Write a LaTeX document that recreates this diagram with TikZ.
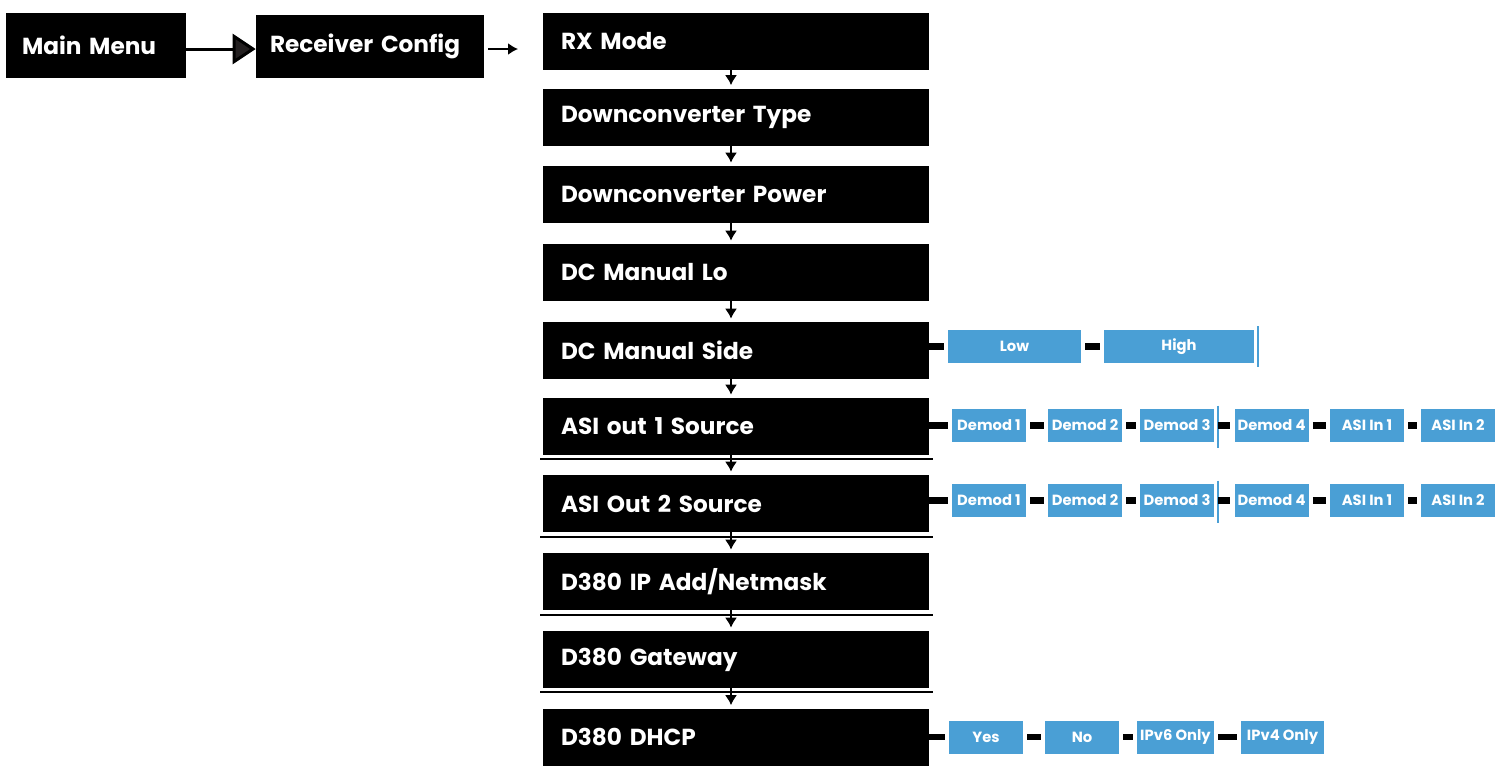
\documentclass[tikz,border=0pt]{standalone}
\usepackage{fontspec}
\setmainfont{Poppins}
\usetikzlibrary{arrows.meta,positioning}
\tikzset{>={Latex[length=2mm,width=2.4mm]}}
\definecolor{optblue}{RGB}{74,159,213}
\definecolor{headgray}{RGB}{35,31,32}

\tikzset{
  menubox/.style={fill=black, text=white, font=\bfseries\fontsize{13.2}{15}\selectfont,
    text width=7.0cm, align=left, inner xsep=0.36cm, inner ysep=0pt, minimum height=1.14cm},
  optbox/.style={fill=optblue, text=white, font=\bfseries\fontsize{8.4}{10}\selectfont,
    inner sep=0pt, minimum width=1.48cm, minimum height=0.66cm},
  stub/.style={line width=0.13cm, shorten >=0.08cm},
  sepline/.style={line width=0.6pt},
  blueline/.style={optblue, line width=0.8pt}
}

\begin{document}
\begin{tikzpicture}[x=0.02cm, y=-0.02cm]
      \useasboundingbox (0,0) rectangle (1496,765);
      % top row
      \node[menubox, text width=2.96cm, inner xsep=0.32cm, minimum height=1.3cm] (main) at (96,45.5) {Main Menu};
      \node[menubox, text width=4.0cm, inner xsep=0.28cm, minimum height=1.26cm] (recv) at (370,46.5) {Receiver Config};
      \coordinate (recvto) at (518,49);
      \draw[line width=0.06cm, -{Triangle[length=0.46cm,width=0.6cm,fill=headgray]}] (main.east |- 0,49) -- (recv.west |- 0,49);
      \draw[line width=0.035cm, ->, shorten <=0.08cm] (recv.east |- recvto) -- (recvto);
      % menu column
      \foreach \nm/\y/\txt in {rx/41.5/RX Mode, dctype/117/Downconverter Type, dcpower/194.5/Downconverter Power,
        dclo/272.5/DC Manual Lo, dcside/350.5/DC Manual Side, asia/426.5/ASI out 1 Source,
        asib/503.5/ASI Out 2 Source, ip/581.5/{D380 IP Add/Netmask}, gw/659.5/D380 Gateway, dhcp/737/D380 DHCP} {%
        \node[menubox] (\nm) at (736,\y) {\txt};
      }
      \foreach \Y in {459,537,615,692} {%
        \draw[sepline] (540,\Y) -- (933,\Y);
      }
      \foreach \a/\b in {rx/dctype, dctype/dcpower, dcpower/dclo, dclo/dcside, dcside/asia,
        asia/asib, asib/ip, ip/gw, gw/dhcp} {%
        \draw[line width=0.03cm, ->, shorten >=0.06cm] ([xshift=-0.1cm]\a.south) -- ([xshift=-0.1cm]\b.north);
      }
      % options
      \node[optbox, minimum width=2.66cm] (low) at (1014.5,346.5) {Low};
      \node[optbox, minimum width=3.0cm] (high) at (1179,346.5) {High};
      \foreach \r/\y in {a/425.5, b/500.5} {%
        \node[optbox] (d1\r) at (989,\y) {Demod 1};
        \node[optbox] (d2\r) at (1085,\y) {Demod 2};
        \node[optbox] (d3\r) at (1177,\y) {Demod 3};
        \node[optbox] (d4\r) at (1271.5,\y) {Demod 4};
        \node[optbox] (in1\r) at (1367,\y) {ASI In 1};
        \node[optbox] (in2\r) at (1458,\y) {ASI In 2};
        \draw[blueline] (1218,\y-20) -- (1218,\y+22);
      }
      \node[optbox] (yes) at (986,737) {Yes};
      \node[optbox] (no) at (1082,737) {No};
      \node[optbox, minimum width=1.54cm] (vsix) at (1175.5,737) {IPv6 Only};
      \node[optbox, minimum width=1.66cm] (vfour) at (1282.5,737) {IPv4 Only};
      \draw[blueline] (1258,326) -- (1258,367);
      % stubs
      \foreach \m/\o in {dcside/low, asia/d1a, asib/d1b, dhcp/yes} {%
        \draw[stub] (\o.west -| \m.east) -- (\o.west);
      }
      \foreach \a/\b in {low/high, d1a/d2a, d2a/d3a, d3a/d4a, d4a/in1a, in1a/in2a,
        d1b/d2b, d2b/d3b, d3b/d4b, d4b/in1b, in1b/in2b, yes/no, no/vsix, vsix/vfour} {%
        \draw[stub, shorten <=0.08cm] (\a) -- (\b);
      }
\end{tikzpicture}
\end{document}
